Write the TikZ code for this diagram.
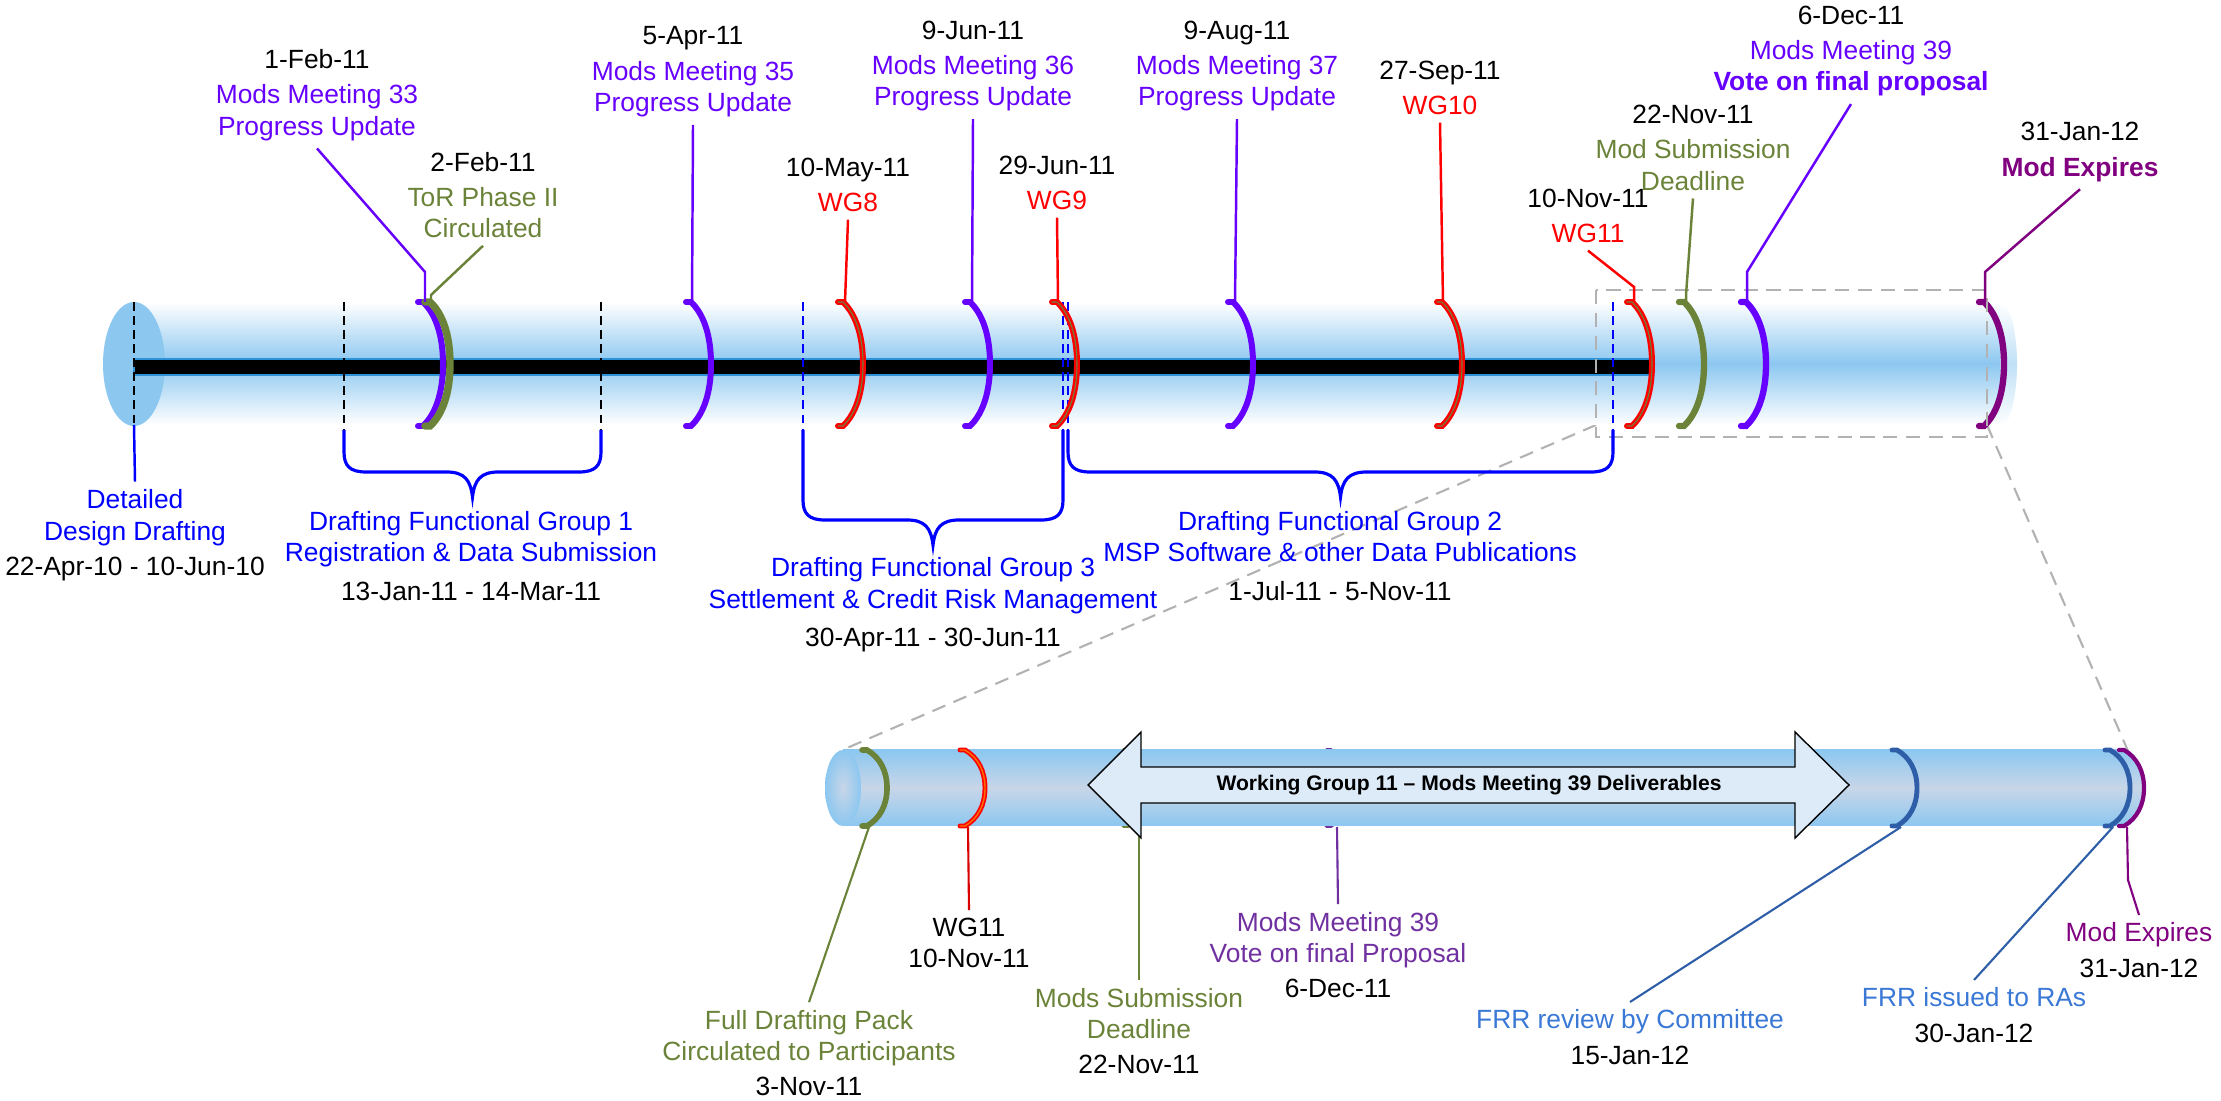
\documentclass[tikz,border=0pt]{standalone}
\usepackage{fontspec}
\setmainfont{Liberation Sans}
\usepackage{tikz}
\definecolor{modviolet}{RGB}{102, 0, 255}
\definecolor{torolive}{RGB}{107, 131, 57}
\definecolor{expplum}{RGB}{128, 0, 128}
\definecolor{tubeblue}{RGB}{140, 199, 240}
\definecolor{lowmid}{RGB}{200, 214, 232}
\definecolor{barblue}{RGB}{46, 146, 214}
\definecolor{lowviolet}{RGB}{112, 48, 160}
\definecolor{frrblue}{RGB}{47, 94, 168}
\definecolor{frrtext}{RGB}{58, 120, 214}
\definecolor{arrowfill}{RGB}{221, 235, 248}
\definecolor{zoomgray}{RGB}{178, 178, 178}
\definecolor{wgorange}{RGB}{255, 110, 0}

\tikzset{
	lbl/.style = {align = center, inner sep = 2pt, font = \fontsize{7.5}{9}\selectfont},
	lead/.style = {line width = 0.7pt},
	lowlead/.style = {line width = 0.6pt},
	brc/.style = {draw = blue, line width = 0.9pt},
	kdash/.style = {black, line width = 0.5pt, dash pattern = on 2.5pt off 1.5pt},
	bdash/.style = {blue, line width = 0.5pt, dash pattern = on 2.5pt off 1.5pt},
	zoomline/.style = {draw = zoomgray, line width = 0.6pt, dash pattern = on 4pt off 2.5pt}
}

% one ring round the tube: [style]{x}{middle y}{half height}
\newcommand{\ringat}[4][]{%
	\draw[line cap = round, #1] (#2-5,#3-#4) -- (#2,#3-#4) .. controls (#2+13,#3-0.8*#4) and (#2+20,#3-0.45*#4) .. (#2+20,#3) .. controls (#2+20,#3+0.45*#4) and (#2+13,#3+0.8*#4) .. (#2,#3+#4) -- (#2-5,#3+#4);}
\newcommand{\wgring}[3]{%
	\ringat[red, line width = 1.7pt]{#1}{#2}{#3}%
	\ringat[torolive, line width = 0.3pt]{#1}{#2}{#3}}
% brace under the tube: {left x}{right x}{level y}
\newcommand{\bracedown}[3]{%
	\draw[brc] (#1,430) -- (#1,#3-20) .. controls (#1,#3-6) and (#1+6,#3) .. (#1+22,#3)
		-- ({(#1+#2)/2-26},#3) .. controls ({(#1+#2)/2-8},#3) and ({(#1+#2)/2-2},#3+8) .. ({(#1+#2)/2},#3+25)
		.. controls ({(#1+#2)/2+2},#3+8) and ({(#1+#2)/2+8},#3) .. ({(#1+#2)/2+26},#3)
		-- (#2-22,#3) .. controls (#2-6,#3) and (#2,#3-6) .. (#2,#3-20) -- (#2,430);}

\begin{document}
\begin{tikzpicture}[x = 0.01cm, y = -0.01cm]
	\useasboundingbox (0,0) rectangle (2221,1101);

	% zoom guide lines
	\coordinate (zl) at (1596,425);
	\coordinate (zr) at (1987,425);
	\coordinate (lt) at (840,751);
	\coordinate (rt) at (2128,751);
	\draw[zoomline] (zl) -- (lt);
	\draw[zoomline] (zr) -- (rt);

	% main tube
	\shade[top color = white, bottom color = white, middle color = tubeblue!55!white] (2000,364) ellipse (17 and 62);
	\shade[top color = white, bottom color = white, middle color = tubeblue] (134,302) rectangle (2000,425);
	\fill[tubeblue] (134,364) ellipse (31 and 62);
	\draw[fill = black, draw = barblue, line width = 0.6pt] (134,359) rectangle (1652,375);

	\draw[kdash] (134,302) -- (134,425);
	\draw[kdash] (344,302) -- (344,430);
	\draw[kdash] (601,302) -- (601,430);
	\draw[bdash] (803,302) -- (803,430);
	\draw[bdash] (1063,302) -- (1063,430);
	\draw[bdash] (1068,302) -- (1068,430);
	\draw[bdash] (1613,302) -- (1613,430);

	\ringat[modviolet, line width = 1.7pt]{423}{364}{62}
	\ringat[torolive, line width = 2.1pt]{430}{364}{62}
	\ringat[modviolet, line width = 1.7pt]{691}{364}{62}
	\wgring{843}{364}{62}
	\ringat[modviolet, line width = 1.7pt]{970}{364}{62}
	\wgring{1057}{364}{62}
	\ringat[modviolet, line width = 1.7pt]{1233}{364}{62}
	\wgring{1442}{364}{62}
	\wgring{1632}{364}{62}
	\ringat[torolive, line width = 1.8pt]{1684}{364}{62}
	\ringat[modviolet, line width = 1.8pt]{1746}{364}{62}
	\ringat[expplum, line width = 1.8pt]{1984}{364}{62}

	\draw[zoomline] (1596,290) rectangle (1987,437);

	% labels above the tube
	\coordinate (a33) at (425,302);
	\coordinate (aTor) at (431,302);
	\coordinate (a35) at (692,302);
	\coordinate (a8) at (845,302);
	\coordinate (a36) at (972,302);
	\coordinate (a9) at (1058,302);
	\coordinate (a37) at (1235,302);
	\coordinate (a10) at (1443,302);
	\coordinate (a11) at (1634,302);
	\coordinate (aSub) at (1686,302);
	\coordinate (a39) at (1747,302);
	\coordinate (aExp) at (1985,302);

	\node (t33) at (317,95) [lbl, text = modviolet] {\textcolor{black}{1-Feb-11}\\[1pt]Mods Meeting 33\\Progress Update};
	\node (tTor) at (483,195) [lbl, text = torolive] {\textcolor{black}{2-Feb-11}\\[1pt]ToR Phase II\\Circulated};
	\node (t35) at (693,72) [lbl, text = modviolet] {\textcolor{black}{5-Apr-11}\\[1pt]Mods Meeting 35\\Progress Update};
	\node (t8) at (848,185) [lbl, text = red] {\textcolor{black}{10-May-11}\\[1pt]WG8};
	\node (t36) at (973,66) [lbl, text = modviolet] {\textcolor{black}{9-Jun-11}\\[1pt]Mods Meeting 36\\Progress Update};
	\node (t9) at (1057,183) [lbl, text = red] {\textcolor{black}{29-Jun-11}\\[1pt]WG9};
	\node (t37) at (1237,66) [lbl, text = modviolet] {\textcolor{black}{9-Aug-11}\\[1pt]Mods Meeting 37\\Progress Update};
	\node (t10) at (1440,88) [lbl, text = red] {\textcolor{black}{27-Sep-11}\\[1pt]WG10};
	\node (t11) at (1588,216) [lbl, text = red] {\textcolor{black}{10-Nov-11}\\[1pt]WG11};
	\node (tSub) at (1693,148) [lbl, text = torolive] {\textcolor{black}{22-Nov-11}\\[1pt]Mod Submission\\Deadline};
	\node (t39) at (1851,51) [lbl, text = modviolet] {\textcolor{black}{6-Dec-11}\\[1pt]Mods Meeting 39\\\textbf{Vote on final proposal}};
	\node (tExp) at (2080,152) [lbl, text = expplum] {\textcolor{black}{31-Jan-12}\\[1pt]\textbf{Mod Expires}};

	\draw[lead, modviolet] (a33) -- ++(0,-30) -- (t33.south);
	\draw[lead, torolive] (aTor) -- ++(0,-7) -- (tTor.south);
	\draw[lead, modviolet] (a35) -- (t35.south);
	\draw[lead, red] (a8) -- (t8.south);
	\draw[lead, modviolet] (a36) -- (t36.south);
	\draw[lead, red] (a9) -- (t9.south);
	\draw[lead, modviolet] (a37) -- (t37.south);
	\draw[lead, red] (a10) -- (t10.south);
	\draw[lead, red] (a11) -- ++(0,-15) -- (t11.south);
	\draw[lead, torolive] (aSub) -- ++(0,-7) -- (tSub.south);
	\draw[lead, modviolet] (a39) -- ++(0,-30) -- (t39.south);
	\draw[lead, expplum] (aExp) -- ++(0,-30) -- (tExp.south);

	% drafting groups below the tube
	\bracedown{344}{601}{472}
	\bracedown{803}{1063}{520}
	\bracedown{1068}{1613}{472}

	\node (bDet) at (135,535) [lbl, text = blue] {Detailed\\Design Drafting\\[1pt]\textcolor{black}{22-Apr-10 - 10-Jun-10}};
	\node (bG1) at (471,556) [lbl, text = blue] {Drafting Functional Group 1\\Registration \& Data Submission\\[2pt]\textcolor{black}{13-Jan-11 - 14-Mar-11}};
	\node (bG3) at (933,605) [lbl, text = blue] {Drafting Functional Group 3\\Settlement \& Credit Risk Management\\[2pt]\textcolor{black}{30-Apr-11 - 30-Jun-11}};
	\node (bG2) at (1340,556) [lbl, text = blue] {Drafting Functional Group 2\\MSP Software \& other Data Publications\\[2pt]\textcolor{black}{1-Jul-11 - 5-Nov-11}};
	\coordinate (aDet) at (134,425);
	\draw[lead, blue] (aDet) -- (bDet.north);

	% zoomed tube (two rings sit behind it)
	\ringat[torolive, line width = 1pt]{1128}{788}{38}
	\ringat[lowviolet, line width = 1pt]{1331}{788}{38}
	\shade[top color = tubeblue, bottom color = tubeblue, middle color = lowmid] (2125,788) ellipse (18 and 38);
	\shade[top color = tubeblue, bottom color = tubeblue, middle color = lowmid] (843,750) rectangle (2125,826);
	\shade[inner color = lowmid, outer color = tubeblue] (843,788) ellipse (18 and 38);

	\ringat[torolive, line width = 1.6pt]{867}{788}{38}
	\ringat[red, line width = 1.4pt]{965}{788}{38}
	\ringat[wgorange, line width = 0.4pt]{965}{788}{38}
	\ringat[frrblue, line width = 1.4pt]{1897}{788}{38}
	\ringat[frrblue, line width = 1.4pt]{2110}{788}{38}
	\ringat[expplum, line width = 1.2pt]{2124}{788}{38}

	\coordinate (p3) at (869,827);
	\coordinate (p10) at (968,827);
	\coordinate (p22) at (1139,827);
	\coordinate (p39) at (1337,827);
	\coordinate (p15) at (1901,827);
	\coordinate (p30) at (2113,827);
	\coordinate (p31) at (2127,827);

	\node (lPack) at (809,1053) [lbl, text = torolive] {Full Drafting Pack\\Circulated to Participants\\[1pt]\textcolor{black}{3-Nov-11}};
	\node (lWG) at (969,943) [lbl] {WG11\\10-Nov-11};
	\node (lSub) at (1139,1031) [lbl, text = torolive] {Mods Submission\\Deadline\\[1pt]\textcolor{black}{22-Nov-11}};
	\node (lM39) at (1338,955) [lbl, text = lowviolet] {Mods Meeting 39\\Vote on final Proposal\\[1pt]\textcolor{black}{6-Dec-11}};
	\node (lFRR) at (1630,1037) [lbl, text = frrtext] {FRR review by Committee\\[1pt]\textcolor{black}{15-Jan-12}};
	\node (lRA) at (1974,1015) [lbl, text = frrtext] {FRR issued to RAs\\[1pt]\textcolor{black}{30-Jan-12}};
	\node (lExp) at (2139,950) [lbl, text = expplum] {Mod Expires\\[1pt]\textcolor{black}{31-Jan-12}};

	\draw[lowlead, torolive] (p3) -- (lPack.north);
	\draw[lowlead, red!85!black] (p10) -- (lWG.north);
	\draw[lowlead, torolive] (p22) -- (lSub.north);
	\draw[lowlead, lowviolet] (p39) -- (lM39.north);
	\draw[lowlead, frrblue] (p15) -- (lFRR.north);
	\draw[lowlead, frrblue] (p30) -- (lRA.north);
	\draw[lowlead, expplum] (p31) -- ++(1,53) -- (lExp.north);

	% deliverables arrow
	\draw[fill = arrowfill, draw = black, line width = 0.4pt] (1088,785) -- (1141,732) -- (1141,767) -- (1795,767) -- (1795,732) -- (1849,785) -- (1795,838) -- (1795,803) -- (1141,803) -- (1141,838) -- cycle;
	\node (dlv) at (1469,785) [font = \fontsize{6}{7}\selectfont\bfseries] {Working Group 11 – Mods Meeting 39 Deliverables};
\end{tikzpicture}
\end{document}
